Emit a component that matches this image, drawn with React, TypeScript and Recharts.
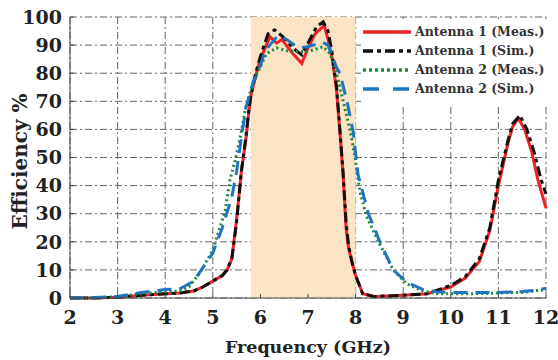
import React from 'react';
import {
  LineChart, Line, XAxis, YAxis, CartesianGrid, ReferenceArea,
} from 'recharts';

const xTicks = [2, 3, 4, 5, 6, 7, 8, 9, 10, 11, 12];
const yTicks = [0, 10, 20, 30, 40, 50, 60, 70, 80, 90, 100];
const bandStart = 5.8;
const bandEnd = 8;

// Antenna 1 (Meas.)
const a1MeasFreq = [2, 2.5, 3, 3.5, 4, 4.3, 4.6, 4.8, 5, 5.2, 5.3, 5.4, 5.5, 5.6, 5.7, 5.75, 5.8, 5.9, 6.0, 6.1, 6.2, 6.34, 6.45, 6.68, 6.87, 7.0, 7.15, 7.34, 7.42, 7.5, 7.6, 7.67, 7.74, 7.8, 7.85, 7.92, 8.0, 8.15, 8.4, 9, 9.5, 10, 10.3, 10.6, 10.82, 11.0, 11.2, 11.3, 11.42, 11.55, 11.7, 11.83, 12];
const a1MeasEff = [0, 0, 0.3, 1, 1.5, 1.8, 2.5, 4, 6, 8, 10, 14, 28, 45, 57, 65, 72, 79, 85, 89, 93, 90.7, 92, 87, 83.5, 89, 94, 97, 92, 86, 74, 59, 43, 25, 18, 13, 8, 1.5, 0.5, 1, 1.5, 4, 7, 13, 24, 40, 55, 61, 64, 60, 52, 42, 32];

// Antenna 1 (Sim.)
const a1SimFreq = [2, 2.5, 3, 3.5, 4, 4.3, 4.6, 4.8, 5, 5.2, 5.3, 5.4, 5.5, 5.6, 5.7, 5.75, 5.8, 5.9, 6.0, 6.16, 6.3, 6.47, 6.68, 6.87, 7.04, 7.18, 7.32, 7.42, 7.5, 7.6, 7.67, 7.74, 7.8, 7.85, 7.92, 8.0, 8.15, 8.4, 9, 9.5, 10, 10.3, 10.6, 10.82, 11.0, 11.2, 11.3, 11.45, 11.6, 11.75, 11.9, 12];
const a1SimEff = [0, 0, 0.3, 1, 1.5, 1.8, 2.5, 4, 6, 8, 10, 14, 27, 45, 58, 66, 72, 80, 86, 94, 95.4, 93, 89, 86.5, 92, 96.5, 98.3, 95, 88, 75, 60, 44, 27, 19, 13, 8, 1.5, 0.5, 1, 1.5, 4.5, 7.5, 14, 25, 42, 56, 62, 65, 60, 52, 42, 37];

// Antenna 2 (Meas.)
const a2MeasFreq = [2, 2.5, 3, 3.5, 4, 4.3, 4.5, 4.73, 5.0, 5.26, 5.36, 5.47, 5.61, 5.68, 5.8, 5.93, 6.13, 6.34, 6.55, 6.97, 7.32, 7.46, 7.6, 7.74, 7.88, 7.99, 8.09, 8.23, 8.51, 8.79, 9.08, 9.42, 9.7, 10, 10.5, 11, 11.5, 12];
const a2MeasEff = [0, 0, 0.5, 1.5, 2.2, 2.5, 4, 9, 17, 31, 42, 49, 60, 67, 74, 80, 87, 89, 88, 87.6, 89.4, 87, 80, 70, 60, 50, 38, 29, 19, 10, 5, 2.5, 1.5, 1.5, 1.5, 1.8, 2, 3];

// Antenna 2 (Sim.)
const a2SimFreq = [2, 2.5, 3, 3.5, 4, 4.3, 4.6, 5.0, 5.2, 5.4, 5.5, 5.6, 5.7, 5.85, 5.95, 6.1, 6.37, 6.55, 6.8, 7.0, 7.3, 7.42, 7.6, 7.67, 7.82, 7.95, 8.05, 8.27, 8.51, 8.79, 9.08, 9.42, 9.7, 10, 10.5, 11, 11.5, 11.8, 12];
const a2SimEff = [0, 0.2, 0.5, 2, 3, 3.2, 6, 16, 25, 36, 45, 57, 68, 77, 80, 88, 93.5, 92, 89, 89.4, 91, 90, 82, 80, 70, 59, 44, 30, 20, 10, 5.5, 3, 2.2, 2, 2, 2, 2.3, 2.8, 3.5];

const zip = (f: number[], v: number[]) => f.map((x, i) => ({ f: x, v: v[i] }));

const series = [
  { name: 'Antenna 1 (Meas.)', data: zip(a1MeasFreq, a1MeasEff), color: '#ee2229', dash: undefined as string | undefined, legendDash: undefined as string | undefined },
  { name: 'Antenna 1 (Sim.)', data: zip(a1SimFreq, a1SimEff), color: '#111111', dash: '10 4 4 4', legendDash: '10 4 4 4' },
  { name: 'Antenna 2 (Meas.)', data: zip(a2MeasFreq, a2MeasEff), color: '#16883a', dash: '2 3', legendDash: '3 3' },
  { name: 'Antenna 2 (Sim.)', data: zip(a2SimFreq, a2SimEff), color: '#1f74c0', dash: '14 8', legendDash: '16 14' },
];

const font = '"DejaVu Serif", serif';
const tickStyle = { fontFamily: font, fontWeight: 'bold', fontSize: 19, fill: '#222' };
const xTitleStyle = { fontFamily: font, fontWeight: 'bold', fontSize: 17.5, fill: '#222' };
const yTitleStyle = { fontFamily: font, fontWeight: 'bold', fontSize: 20, fill: '#222' };

const LegendBox = () => (
  <div style={{ position: 'absolute', left: 361, top: 19, width: 185, background: '#fff', padding: '3px 0 6px 2px', fontFamily: font, fontWeight: 'bold', fontSize: 12.5, color: '#333' }}>
    {series.map((s) => (
      <div key={s.name} style={{ display: 'flex', alignItems: 'center', height: 19 }}>
        <svg width={50} height={10}>
          <line x1={0} y1={5} x2={48} y2={5} stroke={s.color} strokeWidth={3.5} strokeDasharray={s.legendDash} />
        </svg>
        <span style={{ marginLeft: 2, whiteSpace: 'nowrap' }}>{s.name}</span>
      </div>
    ))}
  </div>
);

export default function App() {
  return (
    <div style={{ position: 'relative', width: 558, height: 360, background: '#fff' }}>
      <style>{'body{margin:0}'}</style>
      <LineChart width={558} height={360} margin={{ top: 17, right: 12, left: 0, bottom: 22 }}>
        <ReferenceArea x1={bandStart} x2={bandEnd} y1={0} y2={100} fill="#fbe4c4" fillOpacity={1} stroke="none" />
        <CartesianGrid stroke="#666" strokeDasharray="7 3 2 3" strokeWidth={1} />
        <XAxis
          type="number"
          dataKey="f"
          domain={[2, 12]}
          ticks={xTicks}
          interval={0}
          allowDuplicatedCategory={false}
          tickLine={{ stroke: '#444' }}
          tickSize={-4}
          tickMargin={17}
          axisLine={{ stroke: '#444' }}
          tick={tickStyle}
          height={40}
          label={{ value: 'Frequency (GHz)', position: 'insideBottom', offset: -15, style: xTitleStyle }}
        />
        <XAxis xAxisId="top" orientation="top" type="number" domain={[2, 12]} ticks={[]} tick={false} tickLine={false} height={0} axisLine={{ stroke: '#444' }} />
        <YAxis
          type="number"
          domain={[0, 100]}
          ticks={yTicks}
          interval={0}
          tickLine={{ stroke: '#444' }}
          tickSize={-4}
          tickMargin={12}
          width={70}
          axisLine={{ stroke: '#444' }}
          tick={tickStyle}
          label={{ value: 'Efficiency %', angle: -90, position: 'insideLeft', offset: 20, dy: 72, style: yTitleStyle }}
        />
        <YAxis yAxisId="right" orientation="right" type="number" domain={[0, 100]} ticks={[]} tick={false} tickLine={false} width={0} axisLine={{ stroke: '#444' }} />
        {series.map((s) => (
          <Line
            key={s.name}
            data={s.data}
            dataKey="v"
            name={s.name}
            type="linear"
            stroke={s.color}
            strokeWidth={3}
            strokeDasharray={s.dash}
            dot={false}
            activeDot={false}
            isAnimationActive={false}
          />
        ))}
      </LineChart>
      <LegendBox />
    </div>
  );
}
